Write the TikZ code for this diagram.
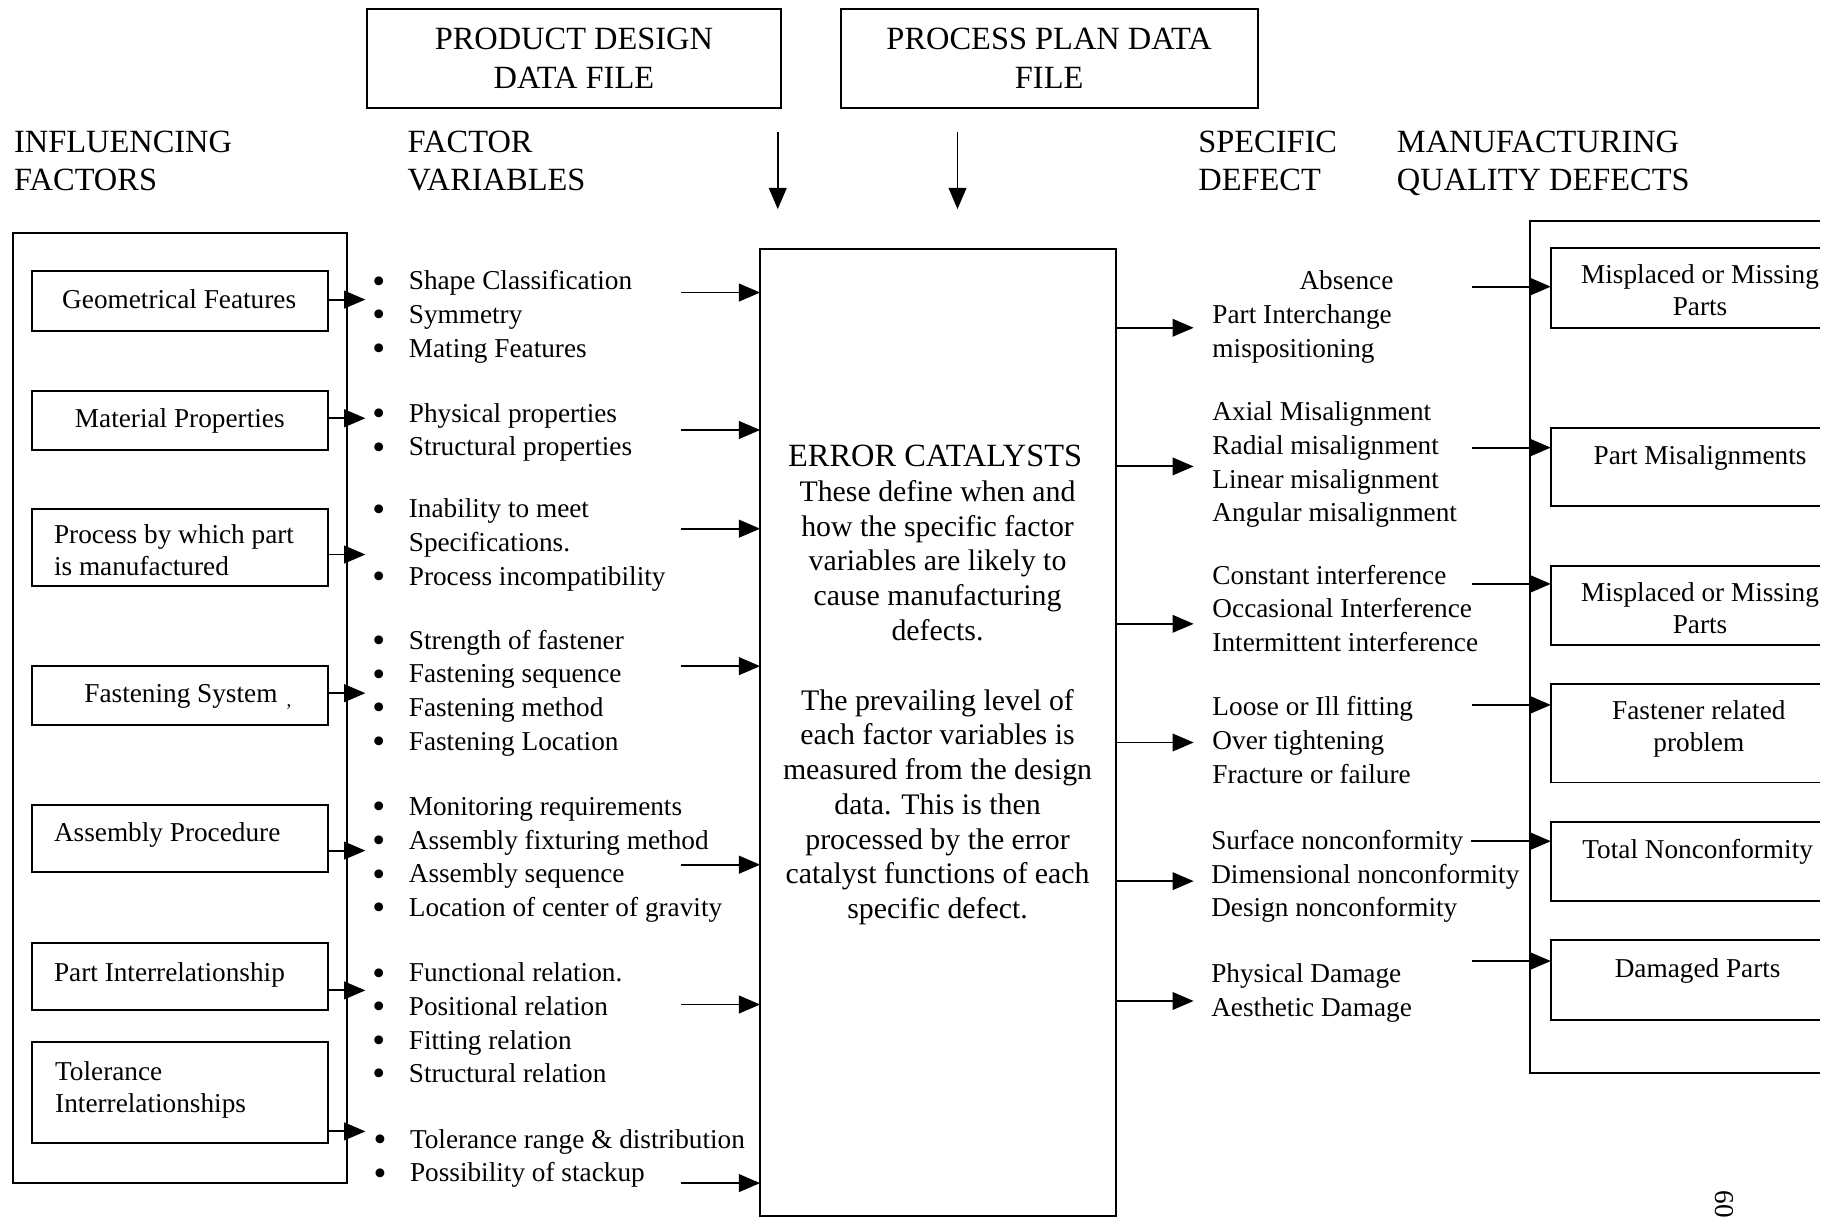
\documentclass[tikz,border=0pt]{standalone}
\usepackage{fontspec}
\setmainfont{Liberation Serif}
\usetikzlibrary{arrows.meta,fit}
\newcommand{\itm}{\makebox[15.5pt][l]{\raisebox{-0.12em}{\scalebox{1.35}{\textbullet}}}}
\newcommand{\nob}{\hspace*{15.5pt}}
\begin{document}
\begin{tikzpicture}[x=0.5pt,y=-0.5pt,
  every node/.style={inner sep=0pt, outer sep=0pt},
  box/.style={draw, line width=0.8pt, inner sep=0pt},
  ghost/.style={inner sep=0pt},
  ln/.style={line width=0.8pt},
  arr/.style={line width=0.8pt, -{Triangle[length=9pt,width=7.5pt]}},
  body/.style={font=\fontsize{11.6}{14.3}\selectfont, align=left},
  bodyc/.style={font=\fontsize{11.6}{13.7}\selectfont, align=center},
  bodyl/.style={font=\fontsize{11.6}{13.7}\selectfont, align=left},
  hdr/.style={font=\fontsize{13.8}{16}\selectfont, align=left},
  hdrc/.style={font=\fontsize{13.8}{16.5}\selectfont, align=center},
  ctr/.style={font=\fontsize{12.7}{14.8}\selectfont, align=center}
]
\useasboundingbox (0,0) rectangle (1567,1036.7);
\clip (0,0) rectangle (1567,1036.7);

% (multi-line nodes are anchored at the baseline of their last line)

% ---------- top data files ----------
\node[box, fit={(312,8) (665,92)}] (pd) {};
\node[hdrc, anchor=base] (pdt) at (488.5,75) {PRODUCT DESIGN\\DATA FILE};
\node[box, fit={(716,8) (1071,92)}] (pp) {};
\node[hdrc, anchor=base] (ppt) at (893,75) {PROCESS PLAN DATA\\FILE};
\coordinate (dn1a) at (662,112); \coordinate (dn1b) at (662,178);
\coordinate (dn2a) at (815,112); \coordinate (dn2b) at (815,178);
\draw[arr] (dn1a) -- (dn1b);
\draw[arr] (dn2a) -- (dn2b);

% ---------- headers ----------
\node[hdr, anchor=base west] (h1) at (12,162) {INFLUENCING\\FACTORS};
\node[hdr, anchor=base west] (h2) at (347,162) {FACTOR\\VARIABLES};
\node[hdr, anchor=base west] (h3) at (1020,162) {SPECIFIC\\DEFECT};
\node[hdr, anchor=base west] (h4) at (1189,162) {MANUFACTURING\\QUALITY DEFECTS};

% ---------- influencing factors ----------
\node[box, fit={(11,198) (295,1007)}] (lout) {};
\node[box, fit={(27,231) (279,282)}] (geo) {};
\node[box, fit={(27,333) (279,383)}] (mat) {};
\node[box, fit={(27,433) (279,499)}] (proc) {};
\node[box, fit={(27,567) (279,617)}] (fast) {};
\node[box, fit={(27,685) (279,742)}] (asm) {};
\node[box, fit={(27,803) (279,860)}] (part) {};
\node[box, fit={(27,887) (279,973)}] (tol) {};
\node[bodyc, anchor=base] (geot) at (152.5,263) {Geometrical Features};
\node[bodyc, anchor=base] (matt) at (153,364) {Material Properties};
\node[bodyl, anchor=base west] (proct) at (46,490) {Process by which part\\is manufactured};
\node[bodyc, anchor=base] (fastt) at (154,598) {Fastening System};
\node[font=\fontsize{8}{9}\selectfont] (comma) at (246,602) {,};
\node[bodyl, anchor=base west] (asmt) at (46,716) {Assembly Procedure};
\node[bodyl, anchor=base west] (partt) at (46,835) {Part Interrelationship};
\node[bodyl, anchor=base west] (tolt) at (47,947) {Tolerance\\Interrelationships};

\coordinate (la1) at (311,255);
\coordinate (la2) at (311,356);
\coordinate (la3) at (311,472);
\coordinate (la4) at (311,590);
\coordinate (la5) at (311,724);
\coordinate (la6) at (311,843);
\coordinate (la7) at (311,963);
\draw[arr] (geo.east |- la1) -- (la1);
\draw[arr] (mat.east |- la2) -- (la2);
\draw[arr] (proc.east |- la3) -- (la3);
\draw[arr] (fast.east |- la4) -- (la4);
\draw[arr] (asm.east |- la5) -- (la5);
\draw[arr] (part.east |- la6) -- (la6);
\draw[arr] (tol.east |- la7) -- (la7);

% ---------- factor variables ----------
\node[body, anchor=base west] (fv1) at (317,304) {\itm Shape Classification\\\itm Symmetry\\\itm Mating Features};
\node[body, anchor=base west] (fv2) at (317,388) {\itm Physical properties\\\itm Structural properties};
\node[body, anchor=base west] (fv3) at (317,498) {\itm Inability to meet\\\nob Specifications.\\\itm Process incompatibility};
\node[body, anchor=base west] (fv4) at (317,638.5) {\itm Strength of fastener\\\itm Fastening sequence\\\itm Fastening method\\\itm Fastening Location};
\node[body, anchor=base west] (fv5) at (317,780) {\itm Monitoring requirements\\\itm Assembly fixturing method\\\itm Assembly sequence\\\itm Location of center of gravity};
\node[body, anchor=base west] (fv6) at (317,921.5) {\itm Functional relation.\\\itm Positional relation\\\itm Fitting relation\\\itm Structural relation};
\node[body, anchor=base west] (fv7) at (318,1006) {\itm Tolerance range \& distribution\\\itm Possibility of stackup};

% ---------- error catalysts ----------
\node[box, fit={(647,212) (950,1035)}] (ec) {};
\node[hdrc, anchor=base] (ect) at (796,397) {ERROR CATALYSTS};
\node[ctr, anchor=base] (ecb) at (798,782) {These define when and\\how the specific factor\\variables are likely to\\cause manufacturing\\defects.\\[14.8pt]The prevailing level of\\each factor variables is\\measured from the design\\data. This is then\\processed by the error\\catalyst functions of each\\specific defect.};

\coordinate (fa1) at (580,249);
\coordinate (fa2) at (580,366);
\coordinate (fa3) at (580,450);
\coordinate (fa4) at (580,567);
\coordinate (fa5) at (580,736);
\coordinate (fa6) at (580,855);
\coordinate (fa7) at (580,1007);
\foreach \i in {1,...,7} \draw[arr] (fa\i) -- (ec.west |- fa\i);

\coordinate (da1) at (1016,279);
\coordinate (da2) at (1016,397);
\coordinate (da3) at (1016,531);
\coordinate (da4) at (1016,632);
\coordinate (da5) at (1016,750);
\coordinate (da6) at (1016,852);
\foreach \i in {1,...,6} \draw[arr] (ec.east |- da\i) -- (da\i);

% ---------- specific defects ----------
\node[body, anchor=base east] (sd0) at (1186,246) {Absence};
\node[body, anchor=base west] (sd1) at (1032,304) {Part Interchange\\mispositioning};
\node[body, anchor=base west] (sd2) at (1032,444) {Axial Misalignment\\Radial misalignment\\Linear misalignment\\Angular misalignment};
\node[body, anchor=base west] (sd3) at (1032,554.5) {Constant interference\\Occasional Interference\\Intermittent interference};
\node[body, anchor=base west] (sd4) at (1032,666.5) {Loose or Ill fitting\\Over tightening\\Fracture or failure};
\node[body, anchor=base west] (sd5) at (1031,780.5) {Surface nonconformity\\Dimensional nonconformity\\Design nonconformity};
\node[body, anchor=base west] (sd6) at (1031,865) {Physical Damage\\Aesthetic Damage};

% ---------- manufacturing quality defects ----------
\node[ghost, fit={(1302,188) (1549,913)}] (rout) {};
\draw[ln] (rout.north east) -- (rout.north west) -- (rout.south west) -- (rout.south east);
\node[ghost, fit={(1320,211) (1549,279)}] (r1) {};
\node[ghost, fit={(1320,364) (1549,431)}] (r2) {};
\node[ghost, fit={(1320,482) (1549,549)}] (r3) {};
\node[ghost, fit={(1320,582) (1549,666)}] (r4) {};
\node[ghost, fit={(1320,700) (1549,767)}] (r5) {};
\node[ghost, fit={(1320,800) (1549,868)}] (r6) {};
\foreach \r in {r1,r2,r3,r4,r5,r6}
  \draw[ln] (\r.north east) -- (\r.north west) -- (\r.south west) -- (\r.south east);
\node[bodyc, anchor=base] (r1t) at (1447,268.5) {Misplaced or Missing\\Parts};
\node[bodyc, anchor=base] (r2t) at (1447,395) {Part Misalignments};
\node[bodyc, anchor=base] (r3t) at (1447,539.5) {Misplaced or Missing\\Parts};
\node[bodyc, anchor=base] (r4t) at (1446,640) {Fastener related\\problem};
\node[bodyc, anchor=base] (r5t) at (1445,731) {Total Nonconformity};
\node[bodyc, anchor=base] (r6t) at (1445,832) {Damaged Parts};

\coordinate (ra1) at (1253,244);
\coordinate (ra2) at (1253,381);
\coordinate (ra3) at (1253,497);
\coordinate (ra4) at (1253,600);
\coordinate (ra5) at (1252,716);
\coordinate (ra6) at (1253,818);
\foreach \i in {1,...,6} \draw[arr] (ra\i) -- (r\i.west |- ra\i);

% ---------- page number ----------
\node[font=\fontsize{11.6}{13}\selectfont, rotate=-90] (pg) at (1468,1025) {60};
\end{tikzpicture}
\end{document}
